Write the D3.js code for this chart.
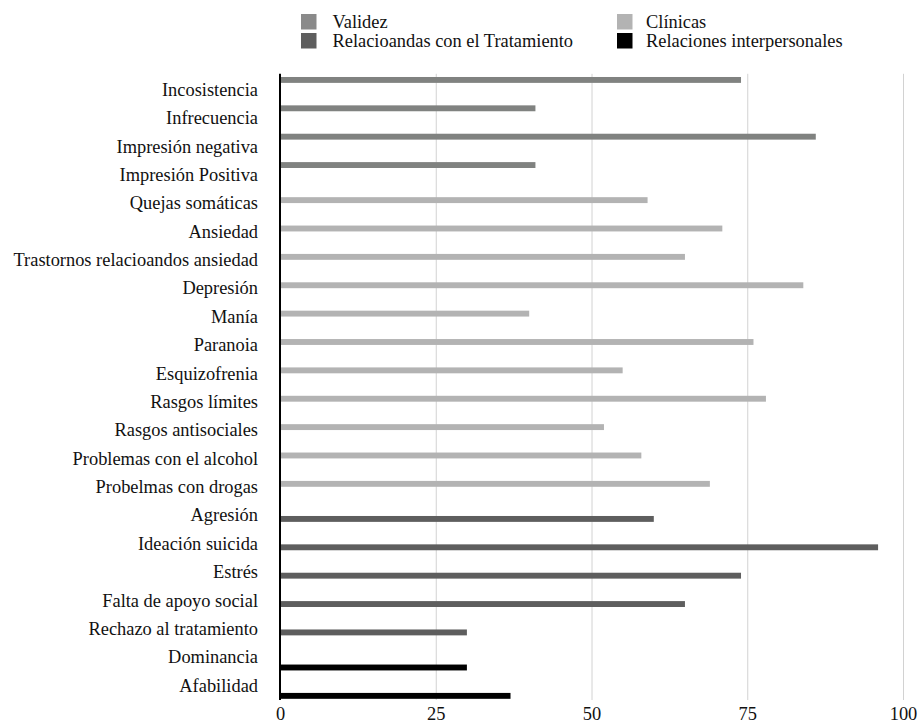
<!DOCTYPE html>
<html>
<head>
<meta charset="utf-8">
<script src="https://cdn.jsdelivr.net/npm/d3@7"></script>
<style>
  body { margin: 0; background: #fff; }
  svg { display: block; }
  svg text { font-family: "Liberation Serif", "Times New Roman", serif; }
</style>
</head>
<body>
<div id="container"></div>
<script>
/* CONSTANTS AND GLOBALS */
const width = 919, height = 726;

/* DATA */
const series = ["Validez", "Clínicas", "Relacioandas con el Tratamiento", "Relaciones interpersonales"];
const seriesColors = ["#808280", "#b3b3b3", "#5e5e5e", "#000000"];

const categories = [
  "Incosistencia", "Infrecuencia", "Impresión negativa", "Impresión Positiva",
  "Quejas somáticas", "Ansiedad", "Trastornos relacioandos ansiedad", "Depresión",
  "Manía", "Paranoia", "Esquizofrenia", "Rasgos límites", "Rasgos antisociales",
  "Problemas con el alcohol", "Probelmas con drogas",
  "Agresión", "Ideación suicida", "Estrés", "Falta de apoyo social", "Rechazo al tratamiento",
  "Dominancia", "Afabilidad"
];
const values = [74, 41, 86, 41, 59, 71, 65, 84, 40, 76, 55, 78, 52, 58, 69, 60, 96, 74, 65, 30, 30, 37];
// which series each category belongs to (index into series)
const groupOf = [0, 0, 0, 0, 1, 1, 1, 1, 1, 1, 1, 1, 1, 1, 1, 2, 2, 2, 2, 2, 3, 3];
const xTicks = [0, 25, 50, 75, 100];

const rows = categories.map((c, i) => ({ name: c, value: values[i], group: series[groupOf[i]] }));

/* SCALES */
const xScale = d3.scaleLinear().domain([0, 100]).range([280, 903]);
const yScale = d3.scaleBand().domain(categories).range([75.8, 700]);
const bw = yScale.bandwidth();
const subScale = d3.scaleBand().domain(series)
  .range([bw / 2 - 13, bw / 2 + 13])
  .paddingInner(0.12);
const color = d3.scaleOrdinal().domain(series).range(seriesColors);

const svg = d3.select("#container").append("svg")
  .attr("width", width)
  .attr("height", height);

// gridlines
const grid = svg.append("g")
  .attr("transform", `translate(0, ${yScale.range()[0] - 2})`)
  .call(d3.axisBottom(xScale).tickValues(xTicks.slice(1)).tickSize(700 - yScale.range()[0] + 2).tickFormat(""));
grid.select(".domain").remove();
grid.selectAll("line").attr("stroke", "#d2d2d2").attr("stroke-width", 1);

// bars
svg.selectAll("rect.bar")
  .data(rows)
  .join("rect")
  .attr("class", "bar")
  .attr("x", xScale(0))
  .attr("y", d => yScale(d.name) + subScale(d.group))
  .attr("width", d => xScale(d.value) - xScale(0))
  .attr("height", subScale.bandwidth())
  .attr("fill", d => color(d.group));

// y axis (category labels + black baseline)
const yAxis = svg.append("g")
  .attr("transform", `translate(${xScale(0)}, 0)`)
  .call(d3.axisLeft(yScale).tickSize(0).tickSizeOuter(0).tickPadding(22));
yAxis.select(".domain").attr("stroke", "#000").attr("stroke-width", 2)
  .attr("d", `M0,${yScale.range()[0] - 2}V${yScale.range()[1]}`);
yAxis.selectAll("text")
  .style("font-size", "18.4px")
  .attr("fill", "#111");

// x axis labels
const xAxis = svg.append("g")
  .attr("transform", `translate(0, ${yScale.range()[1]})`)
  .call(d3.axisBottom(xScale).tickValues(xTicks).tickSize(0).tickPadding(7));
xAxis.select(".domain").remove();
xAxis.selectAll("text")
  .style("font-size", "18.4px")
  .attr("fill", "#111");

// legend
const legendPos = [[301, 14], [617, 14], [301, 33], [617, 33]];
const legendColors = ["#8a8a8a", "#b3b3b3", "#5e5e5e", "#000000"];
const legend = svg.append("g").selectAll("g")
  .data(series)
  .join("g")
  .attr("transform", (d, i) => `translate(${legendPos[i][0]}, ${legendPos[i][1]})`);
legend.append("rect")
  .attr("width", 15.5).attr("height", 15.5)
  .attr("fill", (d, i) => legendColors[i]);
legend.append("text")
  .attr("x", (d, i) => i % 2 === 0 ? 31.5 : 29)
  .attr("y", 13.5)
  .style("font-size", "18.4px")
  .attr("fill", "#111")
  .text(d => d);
</script>
</body>
</html>
